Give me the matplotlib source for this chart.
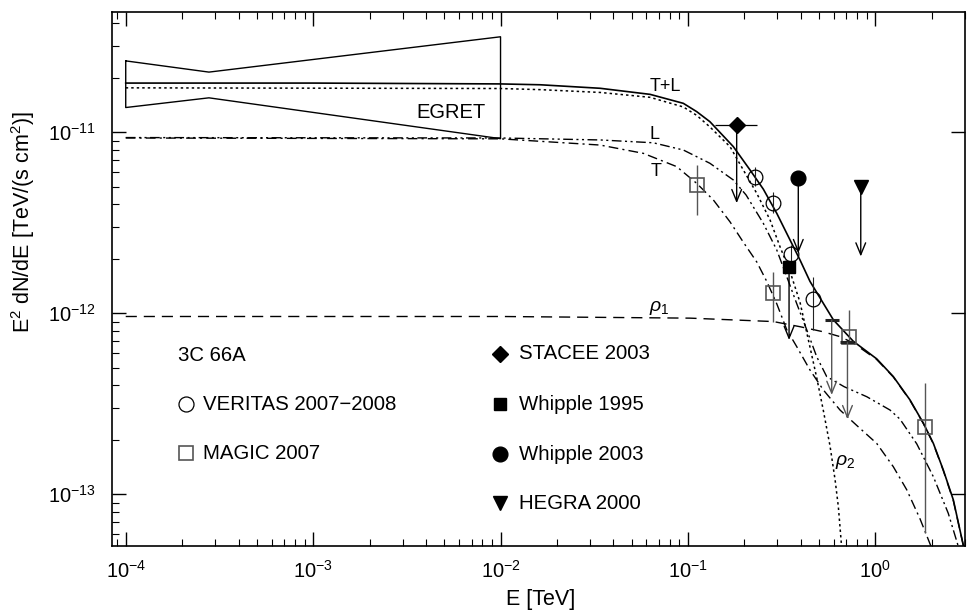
import numpy as np
import matplotlib
matplotlib.use('Agg')
import matplotlib.pyplot as plt
from matplotlib.ticker import LogLocator, NullFormatter

plt.rcParams['font.family'] = ['Liberation Sans', 'DejaVu Sans']
plt.rcParams['mathtext.fontset'] = 'custom'
plt.rcParams['mathtext.rm'] = 'Liberation Sans'
plt.rcParams['mathtext.it'] = 'Liberation Sans:italic'
plt.rcParams['mathtext.bf'] = 'Liberation Sans:bold'

# model curves (E in TeV, E^2 dN/dE in TeV/(s cm^2))
e_tl = [1e-4, 1e-3, 0.01, 0.0163, 0.034, 0.0628, 0.0945, 0.1114, 0.131, 0.1747, 0.2145,
        0.2525, 0.2977, 0.3506, 0.3963, 0.448, 0.597, 0.763, 1.017, 1.247, 1.531,
        1.804, 2.04, 2.306, 2.608, 2.95]
f_tl = [1.87e-11, 1.87e-11, 1.85e-11, 1.83e-11, 1.75e-11, 1.62e-11, 1.445e-11, 1.3e-11,
        1.144e-11, 8.33e-12, 6.19e-12, 4.85e-12, 3.57e-12, 2.54e-12, 1.97e-12, 1.5e-12,
        9.2e-13, 7.0e-13, 5.6e-13, 4.47e-13, 3.32e-13, 2.47e-13, 1.91e-13, 1.36e-13,
        9.3e-14, 5.2e-14]

e_rho2 = [1e-4, 0.01, 0.0163, 0.034, 0.0628, 0.0945, 0.1114, 0.131, 0.1677, 0.1975, 0.2329,
          0.2742, 0.310, 0.3506, 0.3963, 0.448, 0.4867, 0.528, 0.573, 0.61, 0.635, 0.66]
f_rho2 = [1.76e-11, 1.745e-11, 1.72e-11, 1.66e-11, 1.56e-11, 1.38e-11, 1.24e-11, 1.07e-11,
          8.33e-12, 6.19e-12, 4.6e-12, 3.28e-12, 2.33e-12, 1.7e-12, 1.15e-12, 6.5e-13,
          4.4e-13, 2.9e-13, 1.85e-13, 1.2e-13, 8.5e-14, 5.2e-14]

e_rho1 = [1e-4, 0.01, 0.1028, 0.2857, 0.3963, 0.528, 0.648, 0.763, 1.017, 1.247, 1.531,
          1.804, 2.04, 2.306, 2.608, 2.95]
f_rho1 = [9.6e-13, 9.6e-13, 9.4e-13, 9.0e-13, 8.43e-13, 7.9e-13, 7.43e-13, 6.85e-13,
          5.55e-13, 4.45e-13, 3.3e-13, 2.46e-13, 1.9e-13, 1.35e-13, 9.2e-14, 5.2e-14]

e_t = [1e-4, 0.01, 0.034, 0.0578, 0.0871, 0.1114, 0.1366, 0.1677, 0.1975, 0.233, 0.2634,
       0.2977, 0.337, 0.3807, 0.448, 0.528, 0.648, 0.796, 1.017, 1.247, 1.47, 1.733, 1.99]
f_t = [9.3e-12, 9.2e-12, 8.5e-12, 7.65e-12, 6.46e-12, 5.22e-12, 4.23e-12, 3.2e-12, 2.47e-12,
       1.92e-12, 1.5e-12, 1.13e-12, 8.1e-13, 6.54e-13, 4.86e-13, 3.77e-13, 2.92e-13, 2.4e-13,
       1.91e-13, 1.42e-13, 1.06e-13, 7.3e-14, 5.1e-14]

e_l = [1e-4, 0.01, 0.034, 0.0653, 0.0945, 0.131, 0.1747, 0.2044, 0.2525, 0.2977, 0.337,
       0.3807, 0.4305, 0.4867, 0.55, 0.6815, 0.9, 1.198, 1.354, 1.663, 2.04, 2.45, 2.78]
f_l = [9.35e-12, 9.3e-12, 9.07e-12, 8.75e-12, 7.98e-12, 6.74e-12, 5.45e-12, 4.5e-12, 3.14e-12,
       2.24e-12, 1.59e-12, 1.13e-12, 8.1e-13, 5.75e-13, 4.47e-13, 3.93e-13, 3.46e-13, 2.92e-13,
       2.6e-13, 1.9e-13, 1.25e-13, 7.85e-14, 5.1e-14]

# EGRET butterfly
egret_e = [1e-4, 2.78e-4, 1e-2]
egret_hi = [2.48e-11, 2.15e-11, 3.37e-11]
egret_lo = [1.37e-11, 1.55e-11, 9.22e-12]

# VERITAS 2007-2008
ver_e = [0.227, 0.2857, 0.3532, 0.4668]
ver_f = [5.69e-12, 4.06e-12, 2.13e-12, 1.195e-12]
ver_hi = [6.4e-12, 4.7e-12, 2.38e-12, 1.59e-12]
ver_lo = [5.05e-12, 3.57e-12, 1.89e-12, 8.1e-13]

# MAGIC 2007
mag_e = [0.1122, 0.2857, 0.727, 1.849]
mag_f = [5.12e-12, 1.29e-12, 7.43e-13, 2.36e-13]
mag_hi = [6.6e-12, 1.70e-12, 1.04e-12, 4.1e-13]
mag_lo = [3.49e-12, 9.0e-13, 6.9e-13, 6.09e-14]
mag_ul_e = [0.585, 0.71]
mag_ul_f = [9.18e-13, 6.9e-13]
mag_ul_tip = [3.54e-13, 2.6e-13]

# upper limits of other instruments
stacee_e, stacee_f, stacee_tip = 0.182, 1.097e-11, 4.06e-12
stacee_elo, stacee_ehi = 0.1395, 0.233
wh95_e, wh95_f, wh95_tip = 0.3464, 1.81e-12, 7.12e-13
wh03_e, wh03_f, wh03_tip = 0.388, 5.61e-12, 2.15e-12
hegra_e, hegra_f, hegra_tip = 0.836, 5.0e-12, 2.06e-12

grey = '#555555'
arrow_style = '->,head_length=0.85,head_width=0.35'


def upper_limit(ax, e, f_top, f_tip, color):
    ax.annotate('', xy=(e, f_tip), xytext=(e, f_top),
                arrowprops=dict(arrowstyle=arrow_style, color=color, lw=1.0,
                                shrinkA=0, shrinkB=0))


fig = plt.figure(figsize=(9.69, 6.11), dpi=100)
ax = fig.add_axes([0.1159, 0.1059, 0.88, 0.8745])
ax.set_xscale('log')
ax.set_yscale('log')

# curves
ax.plot(e_tl, f_tl, color='black', lw=1.2)
ax.plot(e_rho2, f_rho2, color='black', lw=1.1, linestyle=(0, (1.6, 2.0)))
ax.plot(e_rho1, f_rho1, color='black', lw=1.0, linestyle=(0, (8, 5)))
ax.plot(e_t, f_t, color='black', lw=1.0, linestyle=(0, (7, 3, 1.5, 3)))
ax.plot(e_l, f_l, color='black', lw=1.0, linestyle=(0, (7, 2.5, 1.5, 2.5, 1.5, 2.5)))

# EGRET butterfly
poly_e = egret_e + egret_e[::-1] + [egret_e[0]]
poly_f = egret_hi + egret_lo[::-1] + [egret_hi[0]]
ax.plot(poly_e, poly_f, color='black', lw=1.0)
ax.text(5.43e-3, 1.286e-11, 'EGRET', fontsize=14.5, ha='center', va='center')

# curve labels
ax.text(0.0755, 1.787e-11, 'T+L', fontsize=13, ha='center', va='center')
ax.text(0.066, 9.66e-12, 'L', fontsize=13, ha='center', va='center')
ax.text(0.0672, 6.06e-12, 'T', fontsize=13, ha='center', va='center')
ax.text(0.0701, 1.07e-12, r'$\rho_1$', fontsize=14, ha='center', va='center')
ax.text(0.69, 1.51e-13, r'$\rho_2$', fontsize=14, ha='center', va='center')

# VERITAS
ax.vlines(ver_e, ver_lo, ver_hi, color='#222222', lw=0.8)
ax.plot(ver_e, ver_f, 'o', ms=10.6, mfc='none', mec='black', mew=0.9)

# MAGIC
ax.vlines(mag_e, mag_lo, mag_hi, color=grey, lw=1.0)
ax.plot(mag_e, mag_f, 's', ms=9.4, mfc='none', mec=grey, mew=1.2)
for e, f, tip in zip(mag_ul_e, mag_ul_f, mag_ul_tip):
    upper_limit(ax, e, f, tip, grey)
ax.plot(mag_ul_e, mag_ul_f, '_', ms=10, mec='#222222', mew=2.2)

# STACEE
ax.hlines(stacee_f, stacee_elo, stacee_ehi, color='black', lw=0.9)
upper_limit(ax, stacee_e, stacee_f, stacee_tip, 'black')
ax.plot([stacee_e], [stacee_f], 'D', ms=8.5, color='black')

# Whipple 1995
upper_limit(ax, wh95_e, wh95_f, wh95_tip, 'black')
ax.plot([wh95_e], [wh95_f], 's', ms=9, color='black')

# Whipple 2003
upper_limit(ax, wh03_e, wh03_f, wh03_tip, 'black')
ax.plot([wh03_e], [wh03_f], 'o', ms=10.6, color='black')

# HEGRA 2000
upper_limit(ax, hegra_e, hegra_f, hegra_tip, 'black')
ax.plot([hegra_e], [hegra_f], 'v', ms=9.6, color='black')

# in-plot legend
tr = ax.transAxes
ax.text(0.0767, 0.358, '3C 66A', transform=tr, fontsize=14.7, va='center')
ax.plot([0.0861], [0.2663], 'o', ms=10.8, mfc='none', mec='black', mew=0.9,
        transform=tr, clip_on=False)
ax.text(0.1067, 0.2663, 'VERITAS 2007\u22122008', transform=tr, fontsize=14.7, va='center')
ax.plot([0.0861], [0.1746], 's', ms=9.4, mfc='none', mec=grey, mew=1.2,
        transform=tr, clip_on=False)
ax.text(0.1067, 0.1746, 'MAGIC 2007', transform=tr, fontsize=14.7, va='center')

right_marks = [('D', 8.5, 'STACEE 2003', 0.3599),
               ('s', 9.0, 'Whipple 1995', 0.2663),
               ('o', 10.6, 'Whipple 2003', 0.1727),
               ('v', 9.6, 'HEGRA 2000', 0.0810)]
for mk, ms, lab, yy in right_marks:
    ax.plot([0.4547], [yy], mk, ms=ms, color='black', transform=tr, clip_on=False)
    ax.text(0.4773, yy, lab, transform=tr, fontsize=14.7, va='center')

ax.set_xlim(8.48e-5, 3.01)
ax.set_ylim(5.16e-14, 4.62e-11)

ax.xaxis.set_major_locator(LogLocator(base=10, numticks=12))
ax.xaxis.set_minor_locator(LogLocator(base=10, subs=np.arange(2, 10) * 1.0, numticks=40))
ax.yaxis.set_major_locator(LogLocator(base=10, numticks=12))
ax.yaxis.set_minor_locator(LogLocator(base=10, subs=np.arange(2, 10) * 1.0, numticks=40))
ax.xaxis.set_minor_formatter(NullFormatter())
ax.yaxis.set_minor_formatter(NullFormatter())

ax.tick_params(which='both', direction='in', top=True, right=True)
ax.tick_params(which='major', length=10, width=1.0, labelsize=14.5)
ax.tick_params(axis='x', which='major', pad=10)
ax.tick_params(axis='y', which='major', pad=12)
ax.tick_params(which='minor', length=5, width=0.8)
ax.tick_params(axis='y', which='minor', right=False)
for sp in ax.spines.values():
    sp.set_linewidth(1.2)

ax.set_xlabel('E [TeV]', fontsize=15.5)
ax.set_ylabel(r'E$^2$ dN/dE [TeV/(s cm$^2$)]', fontsize=15.5)
ax.yaxis.set_label_coords(-0.088, 0.606)
ax.xaxis.set_label_coords(0.502, -0.08)

fig.savefig('out.png', dpi=100)
